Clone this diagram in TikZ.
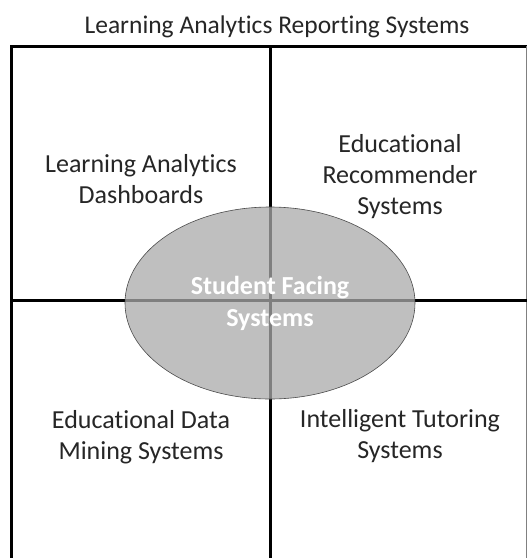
\documentclass[tikz,border=0pt]{standalone}
\usepackage{fontspec}
\setmainfont[Ligatures={NoCommon}]{Carlito}
\usetikzlibrary{shapes.geometric}
\begin{document}
\begin{tikzpicture}[x=1pt,y=-1pt,
  lbl/.style={align=center, font=\fontsize{26}{31}\selectfont, text=black!85, anchor=base, inner sep=0pt},
  frame/.style={line width=3pt, black}]
\useasboundingbox[fill=white] (0,0) rectangle (527,558);
\node[lbl, font=\fontsize{25.5}{31}\selectfont] (title) at (277,33) {Learning Analytics Reporting Systems};
\coordinate (tl) at (11,46);
\coordinate (tr) at (527,46);
\coordinate (bl) at (11,558);
\coordinate (tm) at (270,46);
\coordinate (bm) at (270,558);
\coordinate (ml) at (11,300);
\coordinate (mr) at (527,300);
\draw[frame] (bl) -- (tl) -- (tr);
\draw[gray, line width=1pt] (526.5,46) -- (526.5,558);
\draw[frame] (tm) -- (bm);
\draw[frame] (ml) -- (mr);
\node[lbl] (lad) at (141,203) {Learning Analytics\\Dashboards};
\node[lbl] (ers) at (400,214) {Educational\\Recommender\\Systems};
\node[lbl] (edm) at (141,459) {Educational Data\\Mining Systems};
\node[lbl] (its) at (400,458) {Intelligent Tutoring\\Systems};
\node[ellipse, minimum width=290pt, minimum height=192pt, draw=black!70, line width=0.6pt,
  fill={rgb,255:red,170;green,170;blue,170}, fill opacity=0.75] (sfs) at (270,303) {};
\node[lbl, text=white, font=\bfseries\fontsize{26}{32}\selectfont] (sfst) at (270,326) {Student Facing\\Systems};
\end{tikzpicture}
\end{document}
